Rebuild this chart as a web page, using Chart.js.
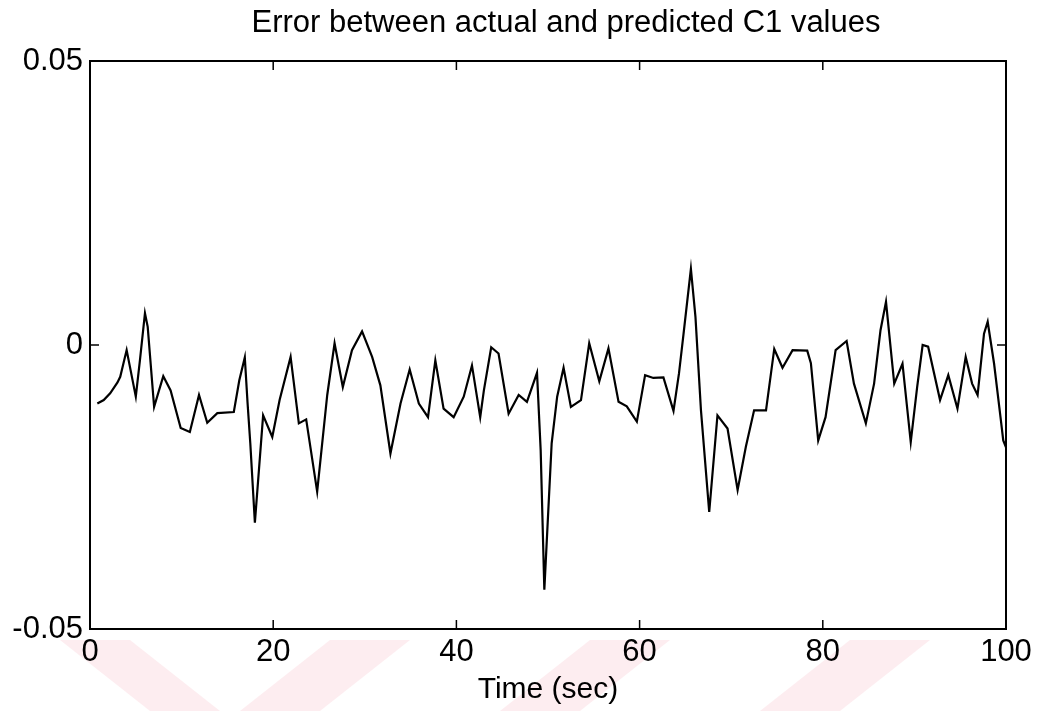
<!DOCTYPE html>
<html>
<head>
<meta charset="utf-8">
<script src="https://cdn.jsdelivr.net/npm/chart.js@4.4.0/dist/chart.umd.min.js"></script>
<style>
  html, body { margin: 0; padding: 0; background: #fff; }
  #wrap { width: 1040px; height: 711px; }
</style>
</head>
<body>
<div id="wrap"><canvas id="errChart" width="1040" height="711"></canvas></div>
<script>
// DADOS
const times = [0.8, 1.5, 2.2, 3.0, 3.3, 4.0, 5.0, 5.45, 6.0, 6.3, 7.0, 8.0, 8.8, 9.9, 10.9, 11.9, 12.8, 13.9, 15.7, 16.3,
  16.9, 17.2, 17.5, 18.0, 18.9, 19.9, 20.7, 21.9, 22.8, 23.6, 24.8, 25.9, 26.7, 27.6, 28.6, 29.7, 30.8, 31.7, 32.8, 33.9,
  34.9, 35.9, 36.9, 37.7, 38.6, 39.7, 40.8, 41.7, 42.6, 43.0, 43.8, 44.6, 45.7, 46.8, 47.7, 48.8, 49.2, 49.6, 50.4, 51.0,
  51.7, 52.5, 53.6, 54.5, 55.6, 56.6, 57.7, 58.6, 59.7, 60.6, 61.5, 62.6, 63.7, 64.3, 64.8, 65.6, 66.1, 66.7, 67.6, 68.5,
  69.6, 70.7, 71.6, 72.5, 73.8, 74.7, 75.6, 76.7, 78.3, 78.7, 79.5, 80.3, 81.4, 82.6, 83.4, 84.7, 85.6, 86.3, 86.9, 87.8,
  88.7, 89.6, 90.3, 90.9, 91.5, 92.8, 93.7, 94.7, 95.6, 96.3, 96.9, 97.6, 98.0, 98.7, 99.4, 99.7, 100];
const errors = [-0.0103, -0.0097, -0.0085, -0.0066, -0.0056, -0.0009, -0.0091, -0.0027, 0.0056, 0.0032, -0.0109, -0.0055, -0.0080, -0.0146, -0.0153, -0.0088, -0.0137, -0.0120, -0.0118, -0.0062,
  -0.0022, -0.0102, -0.0173, -0.0313, -0.0124, -0.0162, -0.0097, -0.0021, -0.0138, -0.0131, -0.0258, -0.0088, 0.0003, -0.0074, -0.0009, 0.0024, -0.0021, -0.0071, -0.0191, -0.0103,
  -0.0043, -0.0103, -0.0127, -0.0027, -0.0112, -0.0127, -0.0091, -0.0036, -0.0127, -0.0080, -0.0004, -0.0015, -0.0121, -0.0088, -0.0100, -0.0049, -0.0185, -0.0431, -0.0173, -0.0091,
  -0.0040, -0.0109, -0.0097, 0.0003, -0.0064, -0.0006, -0.0100, -0.0108, -0.0135, -0.0053, -0.0058, -0.0057, -0.0116, -0.0050, 0.0020, 0.0134, 0.0049, -0.0115, -0.0294, -0.0124,
  -0.0147, -0.0255, -0.0179, -0.0115, -0.0115, -0.0007, -0.0040, -0.0009, -0.0010, -0.0032, -0.0168, -0.0127, -0.0009, 0.0007, -0.0068, -0.0138, -0.0068, 0.0026, 0.0076, -0.0068,
  -0.0033, -0.0171, -0.0074, 0.0000, -0.0003, -0.0097, -0.0053, -0.0112, -0.0021, -0.0068, -0.0088, 0.0020, 0.0041, -0.0033, -0.0127, -0.0168, -0.0180];
const xTicks = [0, 20, 40, 60, 80, 100];
const yTicks = [-0.05, 0, 0.05];
const yTickLabels = ["-0.05", "0", "0.05"];
const chartTitle = "Error between actual and predicted C1 values";

const points = times.map((t, i) => ({ x: t, y: errors[i] }));

const FONT = "'Liberation Sans', Arial, sans-serif";

// faixas rosadas do fundo (marca d'agua)
const watermark = {
  id: "watermark",
  beforeDraw(chart) {
    const c = chart.ctx;
    c.save();
    c.fillStyle = "rgba(250, 215, 222, 0.45)";
    const bands = [[60, 130, 150, 220, -1], [240, 320, 330, 410, 1], [500, 580, 590, 670, 1], [760, 840, 850, 930, 1]];
    bands.forEach(([a, b, cc, d, dir]) => {
      c.beginPath();
      if (dir < 0) {
        c.moveTo(a, 640); c.lineTo(b, 640); c.lineTo(d, 711); c.lineTo(cc, 711);
      } else {
        c.moveTo(cc, 640); c.lineTo(d, 640); c.lineTo(b, 711); c.lineTo(a, 711);
      }
      c.closePath();
      c.fill();
    });
    c.restore();
  }
};

// moldura, ticks para dentro (estilo MATLAB) e titulo
const frame = {
  id: "frame",
  afterDraw(chart) {
    const { ctx, chartArea: a, scales } = chart;
    ctx.save();
    ctx.strokeStyle = "#000";
    ctx.lineWidth = 1.5;
    xTicks.forEach(v => {
      const px = scales.x.getPixelForValue(v);
      ctx.beginPath();
      ctx.moveTo(px, a.bottom); ctx.lineTo(px, a.bottom - 9);
      ctx.moveTo(px, a.top); ctx.lineTo(px, a.top + 9);
      ctx.stroke();
    });
    yTicks.forEach(v => {
      const py = scales.y.getPixelForValue(v);
      ctx.beginPath();
      ctx.moveTo(a.left, py); ctx.lineTo(a.left + 9, py);
      ctx.moveTo(a.right, py); ctx.lineTo(a.right - 9, py);
      ctx.stroke();
    });
    ctx.lineWidth = 2;
    ctx.strokeRect(a.left, a.top, a.right - a.left, a.bottom - a.top);

    // titulo um pouco a direita do centro, como no original
    ctx.fillStyle = "#000";
    ctx.font = "31px " + FONT;
    ctx.textAlign = "center";
    ctx.textBaseline = "middle";
    ctx.fillText(chartTitle, (a.left + a.right) / 2 + 18, 23);
    ctx.restore();
  }
};

new Chart(document.getElementById("errChart"), {
  type: "line",
  data: {
    datasets: [{
      data: points,
      borderColor: "#000",
      borderWidth: 2.2,
      pointRadius: 0,
      tension: 0,
      fill: false
    }]
  },
  options: {
    responsive: false,
    animation: false,
    layout: { padding: { left: 0, right: 34, top: 61, bottom: 0 } },
    plugins: {
      legend: { display: false },
      tooltip: { enabled: false },
      title: { display: false }
    },
    scales: {
      x: {
        type: "linear",
        min: 0,
        max: 100,
        afterFit(scale) { scale.height = 82; },
        afterBuildTicks(scale) { scale.ticks = xTicks.map(v => ({ value: v })); },
        grid: { display: false, drawTicks: false },
        border: { display: false },
        ticks: {
          color: "#000",
          padding: 5,
          maxRotation: 0,
          font: { family: FONT, size: 31 }
        },
        title: {
          display: true,
          text: "Time (sec)",
          color: "#000",
          font: { family: FONT, size: 30 },
          padding: { top: 0, bottom: 3 }
        }
      },
      y: {
        min: -0.05,
        max: 0.05,
        afterFit(scale) { scale.width = 90; },
        afterBuildTicks(scale) { scale.ticks = yTicks.map(v => ({ value: v })); },
        grid: { display: false, drawTicks: false },
        border: { display: false },
        ticks: {
          color: "#000",
          padding: 7,
          font: { family: FONT, size: 31 },
          callback: (v) => yTickLabels[yTicks.indexOf(v)] ?? ""
        }
      }
    }
  },
  plugins: [watermark, frame]
});
</script>
</body>
</html>
